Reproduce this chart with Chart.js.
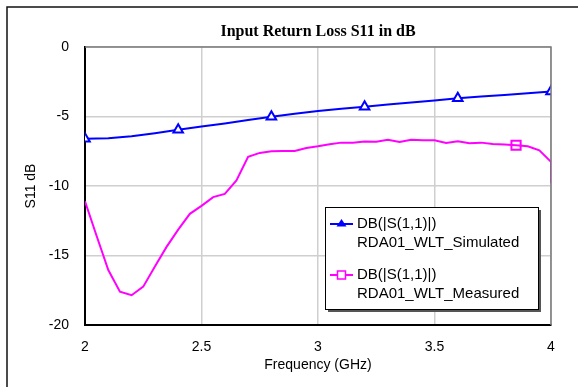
<!DOCTYPE html>
<html>
<head>
<meta charset="utf-8">
<script src="https://cdn.jsdelivr.net/npm/chart.js@4"></script>
<style>
html,body{margin:0;padding:0;background:#fff;overflow:hidden;}
#wrap{position:relative;width:578px;height:387px;}
</style>
</head>
<body>
<div id="wrap"><canvas id="c" width="578" height="387"></canvas></div>
<script>
// ---- data ----
const chartTitle = "Input Return Loss S11 in dB";
const xTitle = "Frequency (GHz)";
const yTitle = "S11 dB";
const seriesNames = ["DB(|S(1,1)|)\nRDA01_WLT_Simulated", "DB(|S(1,1)|)\nRDA01_WLT_Measured"];

const freqSim = [2.0, 2.1, 2.2, 2.3, 2.4, 2.5, 2.6, 2.7, 2.8, 2.9, 3.0, 3.1, 3.2, 3.3, 3.4, 3.5, 3.6, 3.7, 3.8, 3.9, 4.0];
const s11Sim  = [-6.6, -6.56, -6.42, -6.2, -5.95, -5.72, -5.5, -5.26, -5.02, -4.8, -4.6, -4.44, -4.29, -4.14, -4.0, -3.85, -3.69, -3.56, -3.45, -3.33, -3.21];
const simMarkerIdx = [0, 4, 8, 12, 16, 20];

const freqMeas = [2.00, 2.05, 2.10, 2.15, 2.20, 2.25, 2.30, 2.35, 2.40, 2.45, 2.50, 2.55, 2.60, 2.65, 2.70, 2.75, 2.80, 2.85, 2.90, 2.95, 3.00, 3.05, 3.10, 3.15, 3.20, 3.25, 3.30, 3.35, 3.40, 3.45, 3.50, 3.55, 3.60, 3.65, 3.70, 3.75, 3.80, 3.85, 3.90, 3.95, 4.00, 4.00];
const s11Meas  = [-11.1, -13.6, -16.05, -17.6, -17.86, -17.24, -15.8, -14.38, -13.14, -12.0, -11.43, -10.8, -10.57, -9.6, -7.9, -7.62, -7.5, -7.48, -7.48, -7.26, -7.14, -7.0, -6.88, -6.88, -6.79, -6.81, -6.67, -6.83, -6.67, -6.71, -6.71, -6.9, -6.79, -6.93, -6.88, -6.98, -7.02, -7.07, -7.14, -7.43, -8.26, -9.8];
const measMarkerIdx = [37];

const xTicks = [2, 2.5, 3, 3.5, 4];
const xTickLabels = ["2", "2.5", "3", "3.5", "4"];
const yTicks = [0, -5, -10, -15, -20];
const yTickLabels = ["0", "-5", "-10", "-15", "-20"];

// ---- chart ----
const toPts = (xs, ys) => xs.map((x, i) => ({x: x, y: ys[i]}));
const BLUE = '#0000ff', MAG = '#ff00ff';

const decor = {
  id: 'decor',
  afterDraw(chart) {
    const ctx = chart.ctx, a = chart.chartArea;
    ctx.save();
    // outer frame (left & top visible)
    ctx.strokeStyle = '#111';
    ctx.lineWidth = 1.5;
    ctx.beginPath();
    ctx.moveTo(7, 390); ctx.lineTo(7, 7); ctx.lineTo(580, 7);
    ctx.stroke();
    // top & right plot frame in gray
    ctx.strokeStyle = '#7a7a7a';
    ctx.lineWidth = 1.5;
    ctx.beginPath();
    ctx.moveTo(a.left, a.top); ctx.lineTo(a.right, a.top); ctx.lineTo(a.right, a.bottom);
    ctx.stroke();
    // title
    ctx.fillStyle = '#000';
    ctx.textAlign = 'center';
    ctx.textBaseline = 'middle';
    ctx.font = 'bold 16px "Liberation Serif", "Times New Roman", serif';
    ctx.fillText(chartTitle, (a.left + a.right) / 2, 32);
    // axis titles
    ctx.font = '14px "Liberation Sans", Arial, sans-serif';
    ctx.fillText(xTitle, (a.left + a.right) / 2, 365);
    ctx.save();
    ctx.translate(31, (a.top + a.bottom) / 2);
    ctx.rotate(-Math.PI / 2);
    ctx.fillText(yTitle, 0, 0);
    ctx.restore();
    // legend
    const L = 325, T = 207, R = 538, B = 309;
    ctx.fillStyle = '#555';
    ctx.fillRect(L + 3, T + 3, R - L, B - T);
    ctx.fillStyle = '#fff';
    ctx.fillRect(L, T, R - L, B - T);
    ctx.strokeStyle = '#000';
    ctx.lineWidth = 1;
    ctx.strokeRect(L + 0.5, T + 0.5, R - L, B - T);
    const rows = [
      {y: 224, color: BLUE, style: 'tri', lines: seriesNames[0].split('\n')},
      {y: 275, color: MAG, style: 'sq', lines: seriesNames[1].split('\n')}
    ];
    ctx.font = '15px "Liberation Sans", Arial, sans-serif';
    ctx.textAlign = 'left';
    rows.forEach(r => {
      ctx.strokeStyle = r.color;
      ctx.lineWidth = 2;
      ctx.beginPath(); ctx.moveTo(330, r.y); ctx.lineTo(353, r.y); ctx.stroke();
      if (r.style === 'tri') {
        ctx.fillStyle = r.color;
        ctx.beginPath();
        ctx.moveTo(341.5, r.y - 5); ctx.lineTo(346.5, r.y + 2.5); ctx.lineTo(336.5, r.y + 2.5);
        ctx.closePath(); ctx.fill();
      } else {
        ctx.fillStyle = '#fff';
        ctx.fillRect(337.5, r.y - 4, 8, 8);
        ctx.lineWidth = 1.5;
        ctx.strokeRect(337.5, r.y - 4, 8, 8);
      }
      ctx.fillStyle = '#000';
      ctx.fillText(r.lines[0], 357, r.y);
      ctx.fillText(r.lines[1], 357, r.y + 19);
    });
    ctx.restore();
  }
};

new Chart(document.getElementById('c'), {
  type: 'scatter',
  data: {
    datasets: [
      {
        label: seriesNames[0],
        data: toPts(freqSim, s11Sim),
        showLine: true,
        borderColor: BLUE,
        borderWidth: 2,
        tension: 0,
        pointStyle: 'triangle',
        pointRadius: c => simMarkerIdx.includes(c.dataIndex) ? 5.5 : 0,
        pointBorderColor: BLUE,
        pointBackgroundColor: '#fff',
        pointBorderWidth: 2
      },
      {
        label: seriesNames[1],
        data: toPts(freqMeas, s11Meas),
        showLine: true,
        borderColor: MAG,
        borderWidth: 2,
        tension: 0,
        pointStyle: 'rect',
        pointRadius: c => measMarkerIdx.includes(c.dataIndex) ? 6.5 : 0,
        pointBorderColor: MAG,
        pointBackgroundColor: 'rgba(255,255,255,0)',
        pointBorderWidth: 2
      }
    ]
  },
  options: {
    responsive: false,
    animation: false,
    devicePixelRatio: 1,
    layout: {padding: {top: 47, right: 27, left: 0, bottom: 0}},
    plugins: {legend: {display: false}, tooltip: {enabled: false}, title: {display: false}},
    scales: {
      x: {
        type: 'linear', min: 2, max: 4,
        afterFit: s => { s.height = 62; },
        afterBuildTicks: s => { s.ticks = xTicks.map(v => ({value: v})); },
        ticks: {padding: 14, color: '#000', font: {family: '"Liberation Sans", Arial, sans-serif', size: 14}, maxRotation: 0,
                callback: (v, i) => xTickLabels[i]},
        grid: {color: '#cfcfcf', lineWidth: 1.5, drawTicks: false},
        border: {color: '#000', width: 2}
      },
      y: {
        type: 'linear', min: -20, max: 0,
        afterFit: s => { s.width = 85; },
        afterBuildTicks: s => { s.ticks = yTicks.map(v => ({value: v})); },
        ticks: {padding: 16, color: '#000', font: {family: '"Liberation Sans", Arial, sans-serif', size: 14},
                callback: (v, i) => yTickLabels[i]},
        grid: {color: '#cfcfcf', lineWidth: 1.5, drawTicks: false},
        border: {color: '#000', width: 2}
      }
    }
  },
  plugins: [decor]
});
</script>
</body>
</html>
